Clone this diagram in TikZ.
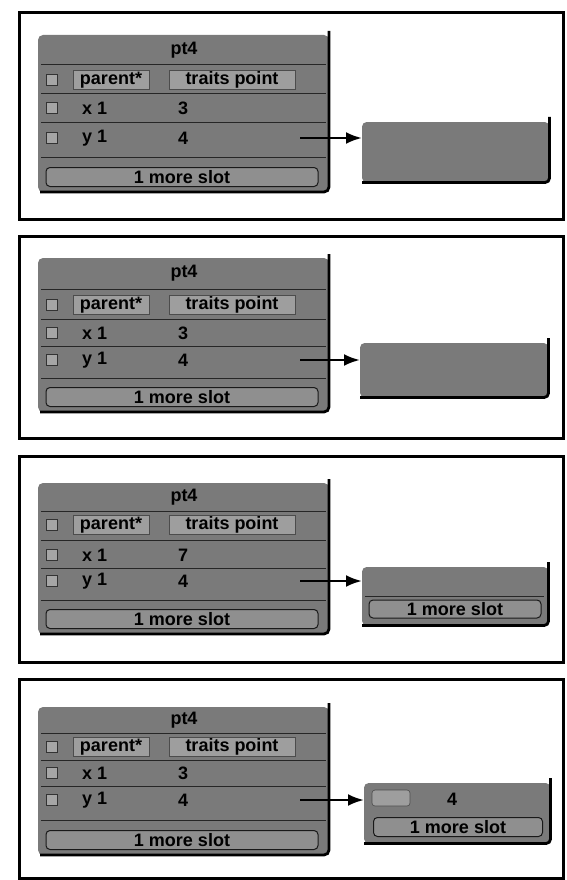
\documentclass[tikz,border=0pt]{standalone}
\usepackage{fontspec}
\setmainfont{Liberation Sans}
\usetikzlibrary{arrows.meta}
\tikzset{
  frame/.style={draw=black,line width=2.8pt},
  obox/.style={fill=black!52},
  shadowedge/.style={draw=black,line width=2.8pt},
  sepline/.style={draw=black!85,line width=1pt},
  cell/.style={fill=black!38,draw=black!70,line width=0.6pt},
  chk/.style={fill=black!35,draw=black!80,line width=0.7pt,minimum size=11pt,inner sep=0pt},
  lbl/.style={font=\fontsize{18}{20}\selectfont\bfseries,text=black,inner sep=0pt},
  footbox/.style={draw=black!90,line width=1pt,rounded corners=4pt,fill=black!44},
  link/.style={line width=2.6pt,-{Latex[length=16pt,width=12pt]}},
}
% #1 prefix, #2 top, #3 title y, #4 parent y, #5 x y, #6 y y, #7 footer y, #8 x value, #9 y value
\newcommand\outliner[9]{%
  \fill[obox,rounded corners=5pt] (38,#2) rectangle (329,{#7+15});
  \draw[shadowedge,rounded corners=5pt] (329,{#2-4}) -- (329,{#7+15}) -- (40,{#7+15});
  \foreach \s in {{(#3+#4)/2},{(#4+#5)/2},{(#5+#6)/2},{(#6+#7)/2}}
    \draw[sepline] (41,{\s}) -- (326,{\s});
  \node[lbl] (#1title) at (184,#3) {pt4};
  \node[chk] (#1c1) at (52,#4) {};
  \node[cell,lbl,minimum width=76pt,minimum height=19pt] (#1pn) at (111,#4) {parent*};
  \node[cell,lbl,minimum width=126pt,minimum height=19pt] (#1pv) at (232,#4) {traits point};
  \node[chk] (#1c2) at (52,#5) {};
  \node[lbl,anchor=west] (#1xn) at (82,#5) {x 1};
  \node[lbl,anchor=west] (#1xv) at (178,#5) {#8};
  \node[chk] (#1c3) at (52,#6) {};
  \node[lbl,anchor=west] (#1yn) at (82,#6) {y 1};
  \node[lbl,anchor=west] (#1yv) at (178,#6) {#9};
  \coordinate (#1s) at (300,#6);
  \node[footbox,minimum width=272pt,minimum height=19pt] (#1foot) at (182,#7) {};
  \node[lbl] (#1more) at (#1foot) {1 more slot};
}
% #1 name, #2 x1, #3 y1, #4 width, #5 height
\newcommand\rightbox[5]{%
  \node[obox,rounded corners=4pt,anchor=north west,minimum width=#4pt,minimum height=#5pt,inner sep=0pt] (#1) at (#2,#3) {};
  \draw[shadowedge,rounded corners=4pt] ([yshift=5pt]#1.north east) -- (#1.south east) -- (#1.south west);
}
\begin{document}
\begin{tikzpicture}[x=1pt,y=-1pt]
\useasboundingbox (0,0) rectangle (566,880);
\fill[white] (0,0) rectangle (566,880);

% ---------- panel 1
\node[frame,anchor=north west,minimum width=544pt,minimum height=207pt,inner sep=0pt] (f1) at (18,11) {};
\outliner{a}{35}{50}{80}{108}{138}{177}{3}{4}
\rightbox{ar}{362}{122}{187}{60}
\draw[link] (as) -- (as -| ar.west);

% ---------- panel 2
\node[frame,anchor=north west,minimum width=544pt,minimum height=202pt,inner sep=0pt] (f2) at (18,235) {};
\outliner{b}{258}{273}{305}{333}{360}{397}{3}{4}
\rightbox{br}{360}{343}{188}{54}
\draw[link] (bs) -- (bs -| br.west);

% ---------- panel 3
\node[frame,anchor=north west,minimum width=544pt,minimum height=206pt,inner sep=0pt] (f3) at (18,455) {};
\outliner{c}{483}{497}{525}{555}{581}{619}{7}{4}
\rightbox{cr}{362}{567}{186}{58}
\draw[sepline] (365,596) -- (544,596);
\node[footbox,minimum width=172pt,minimum height=18pt] (crfoot) at (455,609) {};
\node[lbl] (crmore) at (crfoot) {1 more slot};
\draw[link] (cs) -- (cs -| cr.west);

% ---------- panel 4
\node[frame,anchor=north west,minimum width=544pt,minimum height=199pt,inner sep=0pt] (f4) at (18,678) {};
\outliner{d}{707}{720}{747}{773}{800}{840}{3}{4}
\rightbox{dr}{364}{783}{186}{60}
\node[cell,minimum width=38pt,minimum height=16pt,inner sep=0pt,rounded corners=3pt] (drbtn) at (391,798) {};
\node[lbl] (drtitle) at (452,799) {4};
\node[footbox,minimum width=169pt,minimum height=19pt] (drfoot) at (458,827) {};
\node[lbl] (drmore) at (drfoot) {1 more slot};
\draw[link] (ds) -- (ds -| dr.west);
\end{tikzpicture}
\end{document}
